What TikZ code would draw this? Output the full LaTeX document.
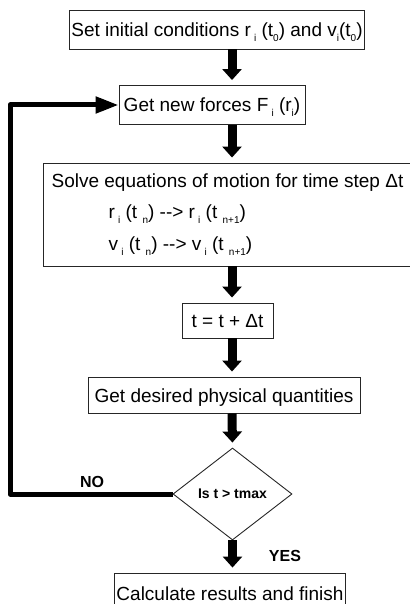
\documentclass[tikz,border=0pt]{standalone}
\usepackage{fontspec}
\setmainfont{Liberation Sans}
\usetikzlibrary{arrows.meta, shapes.geometric, calc}
\newcommand{\sublow}[1]{\raisebox{-5pt}{\fontsize{10}{10}\selectfont #1}}

\begin{document}
\begin{tikzpicture}[
        x=1pt, y=-1pt,
        stepbox/.style={
            rectangle,
            draw=black!85,
            line width=0.9pt,
            inner sep=2pt,
            text height=14pt,
            text depth=0pt,
            align=center,
            font=\fontsize{19}{22}\selectfont
        },
        solvebox/.style={
            rectangle,
            draw=black!85,
            line width=0.9pt,
            inner sep=2pt,
            align=left,
            font=\fontsize{19}{31.5}\selectfont
        },
        testshape/.style={
            diamond,
            draw=black!85,
            line width=0.9pt,
            inner sep=0pt,
            minimum width=119pt,
            minimum height=92pt,
            font=\fontsize{14}{16}\selectfont\bfseries
        },
        downarrow/.style={
            line width=9pt,
            -{Triangle[width=19pt,length=11pt]},
            shorten >=5pt
        },
        loopback/.style={
            line width=5pt,
            line join=round,
            -{Triangle[width=16pt,length=23pt]}
        },
        answer/.style={
            font=\fontsize{16}{18}\selectfont\bfseries
        }
    ]
        \useasboundingbox (0,0) rectangle (409,604);
        \coordinate (spine) at (232,0);
        \coordinate (rail) at (10,0);

        \node[stepbox, minimum width=294pt, minimum height=39pt] (init) at (217,29.5)
            {Set initial conditions r\,\sublow{i}\ (t\sublow{0}) and v\sublow{i}(t\sublow{0})};
        \node[stepbox, minimum width=186pt, minimum height=39pt] (forces) at (212,105)
            {Get new forces F\,\sublow{i}\ (r\sublow{i})};
        \node[solvebox, minimum width=369pt, minimum height=103pt] (solve) at (227.5,214.5)
            {Solve equations of motion for time step Δt\\
             \hspace*{57pt}r\,\sublow{i}\ (t\ \sublow{n}) -{}-> r\,\sublow{i}\ (t\ \sublow{n+1})\\
             \hspace*{57pt}v\,\sublow{i}\ (t\ \sublow{n}) -{}-> v\,\sublow{i}\ (t\ \sublow{n+1})};
        \node[stepbox, minimum width=91pt, minimum height=35pt] (tstep) at (227.5,320.5) {t = t + Δt};
        \node[stepbox, minimum width=272pt, minimum height=36pt] (quant) at (224,395) {Get desired physical quantities};
        \node[testshape] (test) at (232.5,494) {Is t > tmax};
        \node[stepbox, minimum width=230pt, minimum height=40pt] (finish) at (230,593) {Calculate results and finish};

        % main flow
        \draw[downarrow] (init.south -| spine) -- (forces.north -| spine);
        \draw[downarrow] (forces.south -| spine) -- (solve.north -| spine);
        \draw[downarrow] (solve.south -| spine) -- (tstep.north -| spine);
        \draw[downarrow] (tstep.south -| spine) -- (quant.north -| spine);
        \draw[downarrow] (quant.south -| spine) -- (test.north);
        \draw[downarrow] (test.south) -- (finish.north -| test.south);

        % loop back
        \draw[loopback] (test.west) -- (rail |- test.west) |- (forces.west);
        \node[answer] (no) at (92,482) {NO};
        \node[answer] (yes) at (285,556) {YES};
    \end{tikzpicture}
\end{document}
